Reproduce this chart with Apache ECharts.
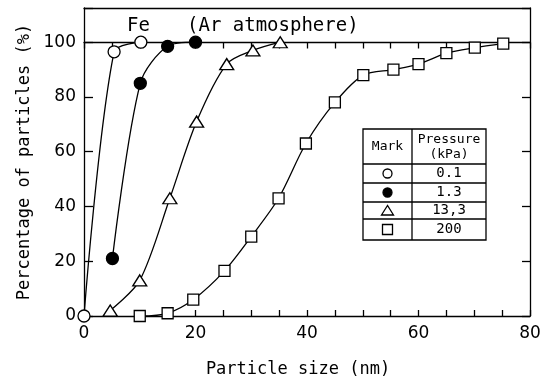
<!DOCTYPE html>
<html>
<head>
<meta charset="utf-8">
<script src="https://cdn.jsdelivr.net/npm/echarts@6/dist/echarts.min.js"></script>
<style>html,body{margin:0;padding:0;background:#fff}#c{width:553px;height:383px}</style>
</head>
<body>
<div id="c"></div>
<script>
// ---- data ----
const xP01 = [0, 5.4, 10.2];
const yP01 = [0, 96.5, 100];
const xP13 = [5.1, 10.1, 15, 20];
const yP13 = [21, 85, 98.5, 100];
const xP133 = [4.7, 10, 15.4, 20.2, 25.6, 30.3, 35.2];
const yP133 = [2, 13, 43, 71, 92, 97, 100];
const xP200 = [10, 15, 19.6, 25.2, 30, 34.9, 39.8, 45, 50.1, 55.5, 60, 65, 70.1, 75.2];
const yP200 = [0, 1, 6, 16.5, 29, 43, 63, 78, 88, 90, 92, 96, 98, 99.5];
const pressureLabels = ['0.1', '1.3', '13,3', '200'];
const xTickLabels = [0, 20, 40, 60, 80];
const yTickLabels = [0, 20, 40, 60, 80, 100];

const pairs = (xs, ys) => xs.map((x, i) => [x, ys[i]]);
const FONT = 'DejaVu Sans Mono';
const NUMFONT = 'DejaVu Sans';
const LW = 1.3;

const chart = echarts.init(document.getElementById('c'), null, {renderer: 'canvas'});

const lineBase = {
  type: 'line', xAxisIndex: 0, yAxisIndex: 0, smooth: 0.3,
  lineStyle: {color: '#000', width: LW}, z: 3, clip: false
};

// legend table geometry
const TL = 363, TR = 486, TT = 129, TB = 240, TC = 412;
const rows = [164, 183, 202, 219, 240];
const tableGraphics = [];
tableGraphics.push({type: 'rect', shape: {x: TL, y: TT, width: TR - TL, height: TB - TT},
  style: {fill: '#fff', stroke: '#000', lineWidth: LW}, z: 10});
tableGraphics.push({type: 'line', shape: {x1: TC, y1: TT, x2: TC, y2: TB}, style: {stroke: '#000', lineWidth: LW}, z: 11});
rows.slice(0, 4).forEach(r => tableGraphics.push({type: 'line', shape: {x1: TL, y1: r, x2: TR, y2: r}, style: {stroke: '#000', lineWidth: LW}, z: 11}));
const midC = (TL + TC) / 2, valC = (TC + TR) / 2;
tableGraphics.push({type: 'text', x: midC, y: (TT + rows[0]) / 2, style: {text: 'Mark', font: '13px ' + FONT, fill: '#000', align: 'center', verticalAlign: 'middle'}, z: 12});
tableGraphics.push({type: 'text', x: valC, y: 140, style: {text: 'Pressure', font: '13px ' + FONT, fill: '#000', align: 'center', verticalAlign: 'middle'}, z: 12});
tableGraphics.push({type: 'text', x: valC, y: 155, style: {text: '(kPa)', font: '13px ' + FONT, fill: '#000', align: 'center', verticalAlign: 'middle'}, z: 12});
pressureLabels.forEach((t, i) => {
  const cy = (rows[i] + rows[i + 1]) / 2;
  tableGraphics.push({type: 'text', x: valC, y: cy, style: {text: t, font: '14px ' + FONT, fill: '#000', align: 'center', verticalAlign: 'middle'}, z: 12});
});
const symY = i => (rows[i] + rows[i + 1]) / 2;
tableGraphics.push({type: 'circle', shape: {cx: midC, cy: symY(0), r: 4.5}, style: {fill: '#fff', stroke: '#000', lineWidth: LW}, z: 12});
tableGraphics.push({type: 'circle', shape: {cx: midC, cy: symY(1), r: 4.5}, style: {fill: '#000', stroke: '#000', lineWidth: LW}, z: 12});
tableGraphics.push({type: 'polygon', shape: {points: [[midC, symY(2) - 5], [midC - 6, symY(2) + 4.5], [midC + 6, symY(2) + 4.5]]}, style: {fill: '#fff', stroke: '#000', lineWidth: LW}, z: 12});
tableGraphics.push({type: 'rect', shape: {x: midC - 5, y: symY(3) - 5, width: 10, height: 10}, style: {fill: '#fff', stroke: '#000', lineWidth: LW}, z: 12});

const option = {
  backgroundColor: '#fff',
  animation: false,
  title: [
    {text: 'Fe', left: 122, top: 12, textStyle: {fontFamily: FONT, fontSize: 19, fontWeight: 'normal', color: '#000'}},
    {text: '(Ar atmosphere)', left: 182, top: 12, textStyle: {fontFamily: FONT, fontSize: 19, fontWeight: 'normal', color: '#000'}}
  ],
  grid: [
    {left: 84, right: 23, top: 8, bottom: 67},
    {left: 84, right: 23, top: 42.5, bottom: 67}
  ],
  xAxis: [
    {
      type: 'value', gridIndex: 0, position: 'bottom', min: 0, max: 80, interval: 5,
      name: 'Particle size (nm)', nameLocation: 'middle', nameGap: 45,
      nameTextStyle: {fontFamily: FONT, fontSize: 17, color: '#000', padding: [0, 18, 0, 0]},
      axisLine: {show: true, onZero: false, lineStyle: {color: '#000', width: LW}},
      axisTick: {show: true, inside: true, length: 6, lineStyle: {color: '#000', width: LW}},
      axisLabel: {show: true, margin: 9, fontFamily: NUMFONT, fontSize: 17, color: '#000',
        formatter: v => xTickLabels.includes(v) ? String(v) : ''},
      splitLine: {show: false}
    },
    {
      type: 'value', gridIndex: 0, position: 'top', min: 0, max: 80,
      axisLine: {show: true, onZero: false, lineStyle: {color: '#000', width: LW}},
      axisTick: {show: false}, axisLabel: {show: false}, splitLine: {show: false}
    },
    {
      type: 'value', gridIndex: 1, position: 'top', min: 0, max: 80, interval: 5,
      axisLine: {show: true, onZero: false, lineStyle: {color: '#000', width: LW}},
      axisTick: {show: true, inside: true, length: 6, lineStyle: {color: '#000', width: LW}},
      axisLabel: {show: false}, splitLine: {show: false}
    }
  ],
  yAxis: [
    {
      type: 'value', gridIndex: 0, position: 'left', min: 0, max: 112.5, interval: 20,
      name: 'Percentage of particles (%)', nameLocation: 'middle', nameGap: 46,
      nameTextStyle: {fontFamily: FONT, fontSize: 17, color: '#000'},
      axisLine: {show: true, onZero: false, lineStyle: {color: '#000', width: LW}},
      axisTick: {show: true, inside: true, length: 9, lineStyle: {color: '#000', width: LW}},
      axisLabel: {show: true, margin: 8, fontFamily: NUMFONT, fontSize: 17, color: '#000',
        formatter: v => yTickLabels.includes(v) ? String(v) : ''},
      splitLine: {show: false}
    },
    {
      type: 'value', gridIndex: 0, position: 'right', min: 0, max: 112.5, interval: 20,
      axisLine: {show: true, onZero: false, lineStyle: {color: '#000', width: LW}},
      axisTick: {show: true, inside: true, length: 8, lineStyle: {color: '#000', width: LW}},
      axisLabel: {show: false}, splitLine: {show: false}
    },
    {
      type: 'value', gridIndex: 1, min: 0, max: 100, show: false
    }
  ],
  graphic: tableGraphics,
  series: [
    Object.assign({}, lineBase, {name: '0.1', data: pairs(xP01, yP01), symbol: 'circle', symbolSize: 12,
      itemStyle: {color: '#fff', borderColor: '#000', borderWidth: LW}}),
    Object.assign({}, lineBase, {name: '1.3', data: pairs(xP13, yP13), symbol: 'circle', symbolSize: 12,
      itemStyle: {color: '#000', borderColor: '#000', borderWidth: LW}}),
    Object.assign({}, lineBase, {name: '13.3', data: pairs(xP133, yP133), symbol: 'triangle', symbolSize: [14, 11],
      itemStyle: {color: '#fff', borderColor: '#000', borderWidth: LW}}),
    Object.assign({}, lineBase, {name: '200', data: pairs(xP200, yP200), symbol: 'rect', symbolSize: 11,
      itemStyle: {color: '#fff', borderColor: '#000', borderWidth: LW}})
  ]
};
chart.setOption(option);
</script>
</body>
</html>
